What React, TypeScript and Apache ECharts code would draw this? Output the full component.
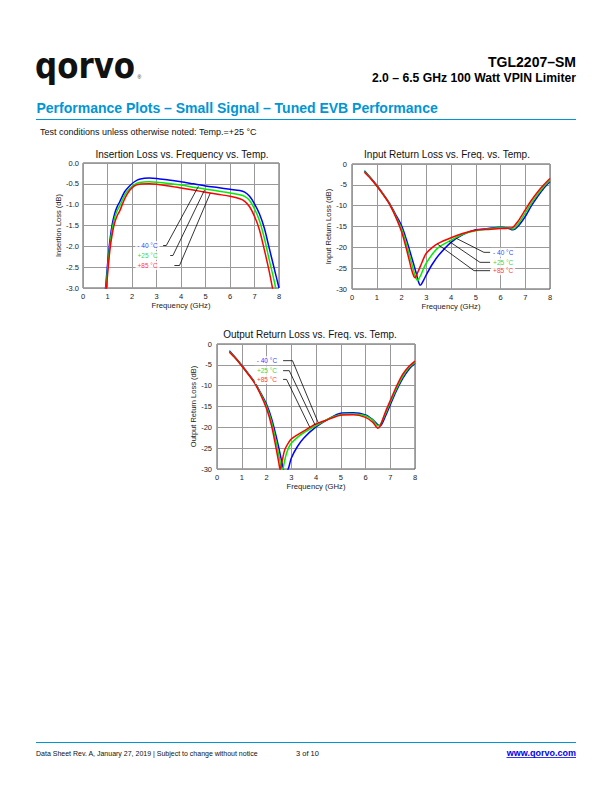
import React, { useEffect, useRef } from "react";
import * as echarts from "echarts";

const FONT = "'Liberation Sans', Arial, Helvetica, sans-serif";

const TEMP_LABELS = ["- 40 °C", "+25 °C", "+85 °C"];
const CURVE_COLORS = ["#0000ff", "#00ee00", "#ff0000"];
const LABEL_COLORS = ["#0000ff", "#00cc00", "#ff0000"];

const CHART_TITLES = [
  "Insertion Loss vs. Frequency vs. Temp.",
  "Input Return Loss vs. Freq. vs. Temp.",
  "Output Return Loss vs. Freq. vs. Temp.",
];
const Y_NAMES = ["Insertion Loss (dB)", "Input Return Loss (dB)", "Output Return Loss (dB)"];
const X_NAME = "Frequency (GHz)";

// Insertion loss (dB) vs frequency (GHz)
const IL_FREQ = [0.85, 0.95, 1.0, 1.1, 1.2, 1.3, 1.4, 1.5, 1.7, 1.9, 2.1, 2.3, 2.7, 3.0, 3.5, 4.0, 4.5, 5.0, 5.5, 6.0, 6.4, 6.6, 6.8, 7.0, 7.2, 7.4, 7.6, 7.8, 8.0];
const IL_M40 = [-3.5, -2.8, -2.45, -1.85, -1.45, -1.2, -1.04, -0.93, -0.69, -0.55, -0.45, -0.39, -0.36, -0.37, -0.41, -0.45, -0.5, -0.55, -0.59, -0.63, -0.66, -0.7, -0.8, -0.98, -1.22, -1.56, -2.04, -2.52, -3.0];
const IL_P25 = [-3.7, -2.95, -2.58, -1.97, -1.56, -1.3, -1.14, -1.03, -0.77, -0.62, -0.52, -0.47, -0.45, -0.46, -0.49, -0.53, -0.58, -0.63, -0.67, -0.72, -0.76, -0.8, -0.9, -1.1, -1.38, -1.8, -2.32, -2.82, -3.4];
const IL_P85 = [-3.9, -3.1, -2.7, -2.08, -1.68, -1.42, -1.26, -1.15, -0.86, -0.66, -0.55, -0.51, -0.5, -0.51, -0.55, -0.6, -0.65, -0.7, -0.75, -0.8, -0.86, -0.92, -1.05, -1.28, -1.6, -2.08, -2.6, -3.2, -3.8];

// Input return loss (dB)
const IRL_FREQ = [0.5, 0.75, 1.0, 1.25, 1.5, 1.75, 2.0, 2.2, 2.4, 2.5, 2.55, 2.6, 2.65, 2.7, 2.75, 2.8, 2.9, 3.0, 3.25, 3.5, 4.0, 4.5, 5.0, 5.5, 6.0, 6.3, 6.5, 6.7, 7.0, 7.25, 7.5, 7.75, 8.0];
const IRL_M40 = [-1.6, -3.3, -5.1, -7.1, -9.3, -12.0, -14.8, -18.2, -22.2, -24.2, -25.3, -26.3, -27.5, -28.5, -29.1, -28.9, -27.8, -26.6, -24.0, -21.9, -18.8, -16.9, -15.8, -15.5, -15.2, -15.4, -15.8, -15.0, -12.6, -10.0, -7.8, -5.8, -4.2];
const IRL_P25 = [-1.8, -3.4, -5.2, -7.2, -9.4, -12.3, -15.5, -19.3, -23.6, -25.8, -26.8, -27.6, -28.0, -27.6, -27.0, -26.4, -25.0, -23.8, -21.6, -20.0, -18.3, -16.8, -16.0, -15.6, -15.3, -15.4, -15.6, -14.5, -11.8, -9.4, -7.3, -5.4, -3.9];
const IRL_P85 = [-2.0, -3.5, -5.3, -7.3, -9.5, -12.5, -16.2, -20.4, -25.2, -27.0, -27.3, -26.8, -26.1, -25.4, -24.7, -24.0, -22.6, -21.4, -20.0, -19.0, -17.7, -16.6, -15.9, -15.7, -15.5, -15.4, -15.2, -13.8, -11.0, -8.7, -6.7, -5.0, -3.5];

// Output return loss (dB)
const ORL_FREQ = [0.5, 0.75, 1.0, 1.25, 1.5, 1.75, 2.0, 2.2, 2.4, 2.5, 2.55, 2.6, 2.65, 2.7, 2.75, 2.8, 2.9, 3.0, 3.25, 3.5, 4.0, 4.5, 5.0, 5.5, 6.0, 6.3, 6.5, 6.6, 6.8, 7.0, 7.25, 7.5, 7.75, 8.0];
const ORL_M40 = [-1.6, -3.3, -5.1, -7.0, -9.0, -11.6, -14.5, -17.8, -22.4, -25.0, -26.4, -27.8, -29.2, -30.5, -31.2, -31.0, -29.6, -27.4, -24.6, -22.6, -19.9, -18.0, -16.6, -16.5, -17.0, -18.2, -19.4, -19.6, -17.4, -14.6, -11.2, -8.3, -6.1, -4.6];
const ORL_P25 = [-1.8, -3.4, -5.2, -7.1, -9.1, -11.8, -15.0, -18.6, -23.8, -26.8, -28.2, -29.6, -30.3, -29.0, -27.6, -26.4, -24.8, -23.8, -22.4, -21.3, -19.6, -18.0, -16.9, -16.8, -17.2, -18.3, -19.6, -19.3, -16.8, -14.0, -10.7, -7.8, -5.7, -4.4];
const ORL_P85 = [-2.0, -3.5, -5.3, -7.2, -9.2, -12.0, -15.5, -19.5, -25.4, -28.6, -30.2, -29.0, -27.6, -26.2, -25.2, -24.6, -23.6, -22.8, -21.8, -20.9, -19.2, -18.1, -17.1, -17.0, -17.6, -18.8, -20.2, -19.6, -16.4, -13.6, -10.2, -7.3, -5.4, -4.1];

// Annotation leader lines (data coordinates) and label anchors
const IL_LEADERS = [
  [[3.27, -1.98], [3.40, -1.98], [4.71, -0.56]],
  [[3.56, -2.22], [3.67, -2.22], [4.96, -0.65]],
  [[3.73, -2.46], [3.94, -2.46], [5.19, -0.73]],
];
const IL_LABEL_AT = [[3.27, -1.98], [3.27, -2.22], [3.27, -2.46]];

const IRL_LEADERS = [
  [[4.20, -17.8], [5.33, -21.2], [5.58, -21.2]],
  [[3.93, -18.6], [5.17, -23.6], [5.58, -23.6]],
  [[3.45, -19.2], [4.93, -25.6], [5.58, -25.6]],
];
const IRL_LABEL_AT = [[5.58, -21.2], [5.58, -23.6], [5.58, -25.6]];

const ORL_LEADERS = [
  [[2.67, -4.0], [3.05, -4.0], [4.09, -18.9]],
  [[2.67, -6.4], [2.92, -6.4], [3.96, -19.4]],
  [[2.67, -8.5], [2.81, -8.5], [3.75, -20.0]],
];
const ORL_LABEL_AT = [[2.67, -4.0], [2.67, -6.4], [2.67, -8.5]];

const GRIDS = [
  { left: 83, top: 163, width: 196, height: 125 },
  { left: 352, top: 164, width: 198, height: 125 },
  { left: 217, top: 344, width: 198, height: 125 },
];
const Y_RANGES = [
  { min: -3, max: 0, interval: 0.5, digits: 1 },
  { min: -30, max: 0, interval: 5, digits: 0 },
  { min: -30, max: 0, interval: 5, digits: 0 },
];
const TITLE_POS = [[182, 153.5], [447, 153.5], [310, 333.5]];

function buildOption() {
  const curveSets = [
    { freq: IL_FREQ, vals: [IL_M40, IL_P25, IL_P85], leaders: IL_LEADERS, labelAt: IL_LABEL_AT, labelPos: "left", labelDist: 3 },
    { freq: IRL_FREQ, vals: [IRL_M40, IRL_P25, IRL_P85], leaders: IRL_LEADERS, labelAt: IRL_LABEL_AT, labelPos: "right", labelDist: 0.5 },
    { freq: ORL_FREQ, vals: [ORL_M40, ORL_P25, ORL_P85], leaders: ORL_LEADERS, labelAt: ORL_LABEL_AT, labelPos: "left", labelDist: 3.5 },
  ];

  const series: any[] = [];
  curveSets.forEach((set, g) => {
    set.vals.forEach((vals, k) => {
      series.push({
        type: "line",
        xAxisIndex: g,
        yAxisIndex: g,
        data: set.freq.map((f, i) => [f, vals[i]]),
        symbol: "none",
        smooth: 0.3,
        clip: true,
        silent: true,
        z: 3,
        lineStyle: { color: CURVE_COLORS[k], width: 1.5 },
        itemStyle: { color: CURVE_COLORS[k] },
      });
    });
    set.leaders.forEach((pts) => {
      series.push({
        type: "line",
        xAxisIndex: g,
        yAxisIndex: g,
        data: pts,
        symbol: "none",
        silent: true,
        z: 4,
        lineStyle: { color: "#000", width: 0.8 },
      });
    });
    series.push({
      type: "scatter",
      xAxisIndex: g,
      yAxisIndex: g,
      symbolSize: 1,
      silent: true,
      z: 5,
      itemStyle: { color: "rgba(0,0,0,0)" },
      data: set.labelAt.map((p, k) => ({
        name: TEMP_LABELS[k],
        value: p,
        label: { color: LABEL_COLORS[k] },
      })),
      label: {
        show: true,
        position: set.labelPos,
        distance: set.labelDist,
        formatter: "{b}",
        fontSize: 6.5,
        fontFamily: FONT,
        backgroundColor: "#fff",
        padding: [1, 2],
      },
    });
  });

  const grid = GRIDS.map((r) => ({
    ...r,
    show: true,
    backgroundColor: "#fff",
    borderColor: "#555",
    borderWidth: 1,
    containLabel: false,
  }));

  const xAxis = GRIDS.map((_, g) => ({
    type: "value",
    gridIndex: g,
    min: 0,
    max: 8,
    interval: 1,
    name: X_NAME,
    nameLocation: "middle",
    nameGap: 13,
    nameTextStyle: { fontSize: 7.7, color: "#222", fontFamily: FONT },
    axisLine: { show: false },
    axisTick: { show: false },
    axisLabel: { fontSize: 7.5, color: "#222", margin: 4, fontFamily: FONT },
    splitLine: { show: true, lineStyle: { color: "#999", width: 1 } },
  }));

  const yAxis = GRIDS.map((_, g) => ({
    type: "value",
    gridIndex: g,
    min: Y_RANGES[g].min,
    max: Y_RANGES[g].max,
    interval: Y_RANGES[g].interval,
    name: Y_NAMES[g],
    nameLocation: "middle",
    nameRotate: 90,
    nameGap: g === 0 ? 18 : 16,
    nameTextStyle: { fontSize: 7.5, color: "#222", fontFamily: FONT },
    axisLine: { show: false },
    axisTick: { show: false },
    axisLabel: {
      fontSize: 7.5,
      color: "#222",
      margin: g === 0 ? 4 : 5,
      fontFamily: FONT,
      formatter: (v: number) => v.toFixed(Y_RANGES[g].digits),
    },
    splitLine: { show: true, lineStyle: { color: "#999", width: 1 } },
  }));

  const BLUE = "#0096d6";
  const graphic: any[] = [
    // logo
    {
      type: "text",
      x: 35,
      y: 65.8,
      scaleX: 0.86,
      style: { text: "qorvo", font: "bold 36px 'DejaVu Sans', sans-serif", fill: "#111", align: "left", verticalAlign: "middle" },
    },
    { type: "text", x: 137.5, y: 76.5, style: { text: "®", font: "5px " + FONT, fill: "#111", align: "left", verticalAlign: "middle" } },
    { type: "text", x: 576, y: 61.5, style: { text: "TGL2207–SM", font: "bold 14px " + FONT, fill: "#000", align: "right", verticalAlign: "middle" } },
    { type: "text", x: 576, y: 78.3, style: { text: "2.0 – 6.5 GHz 100 Watt VPIN Limiter", font: "bold 12.2px " + FONT, fill: "#000", align: "right", verticalAlign: "middle" } },
    { type: "text", x: 36.5, y: 108.3, style: { text: "Performance Plots – Small Signal – Tuned EVB Performance", font: "bold 14px " + FONT, fill: BLUE, align: "left", verticalAlign: "middle" } },
    { type: "line", shape: { x1: 36, y1: 119.5, x2: 576, y2: 119.5 }, style: { stroke: BLUE, lineWidth: 1 } },
    { type: "text", x: 40, y: 132, style: { text: "Test conditions unless otherwise noted: Temp.=+25 °C", font: "9px " + FONT, fill: "#111", align: "left", verticalAlign: "middle" } },
    // footer
    { type: "line", shape: { x1: 36, y1: 742.5, x2: 576, y2: 742.5 }, style: { stroke: BLUE, lineWidth: 1 } },
    { type: "text", x: 36, y: 753, style: { text: "Data Sheet Rev. A, January 27, 2019 | Subject to change without notice", font: "7px " + FONT, fill: "#111", align: "left", verticalAlign: "middle" } },
    { type: "text", x: 296, y: 753, style: { text: "3 of 10", font: "7.5px " + FONT, fill: "#111", align: "left", verticalAlign: "middle" } },
    { type: "text", x: 576, y: 753, style: { text: "www.qorvo.com", font: "bold 9px " + FONT, fill: "#0000ee", align: "right", verticalAlign: "middle" } },
    { type: "line", shape: { x1: 506.5, y1: 757.5, x2: 576, y2: 757.5 }, style: { stroke: "#0000ee", lineWidth: 0.8 } },
  ];
  CHART_TITLES.forEach((t, g) => {
    graphic.push({
      type: "text",
      x: TITLE_POS[g][0],
      y: TITLE_POS[g][1],
      scaleX: 0.87,
      style: { text: t, font: "11.5px " + FONT, fill: "#111", align: "center", verticalAlign: "middle" },
    });
  });

  return {
    animation: false,
    backgroundColor: "#fff",
    textStyle: { fontFamily: FONT },
    grid,
    xAxis,
    yAxis,
    series,
    graphic,
  };
}

export default function App() {
  const ref = useRef<HTMLDivElement | null>(null);
  useEffect(() => {
    if (!ref.current) return;
    const chart = echarts.init(ref.current, null, { renderer: "svg", width: 612, height: 792 });
    chart.setOption(buildOption() as any);
    return () => chart.dispose();
  }, []);
  return (
    <div
      ref={ref}
      style={{ position: "absolute", left: 0, top: 0, width: 612, height: 792, background: "#fff" }}
    />
  );
}
